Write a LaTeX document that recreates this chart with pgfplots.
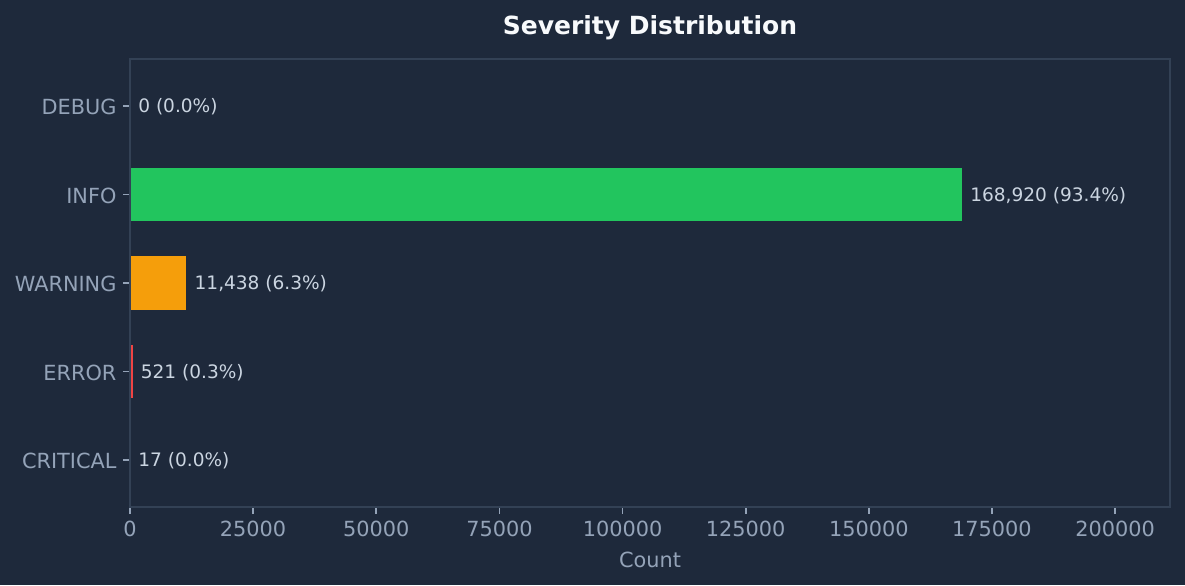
\documentclass[border=0pt]{standalone}
\usepackage{pgfplots}
\pgfplotsset{compat=1.18}
\usepackage{fontspec}
\setmainfont{DejaVu Sans}
\definecolor{bg}{HTML}{1E293B}
\definecolor{spine}{HTML}{334155}
\definecolor{tickc}{HTML}{94A3B8}
\definecolor{labc}{HTML}{CBD5E1}
\definecolor{titlec}{HTML}{F8FAFC}
\definecolor{cinfo}{HTML}{22C55E}
\definecolor{cwarn}{HTML}{F59E0B}
\definecolor{cerr}{HTML}{EF4444}
\definecolor{ccrit}{HTML}{DC2626}
\definecolor{cdebug}{HTML}{64748B}
\begin{document}
\begin{tikzpicture}
\path[use as bounding box, fill=bg] (-62.4pt,-37.44pt) rectangle (506.4pt,243.36pt);
\begin{axis}[
  at={(0,0)}, anchor=south west,
  scale only axis, width=499.2pt, height=215.04pt,
  xmin=0, xmax=211150, ymin=-0.53, ymax=4.53,
  clip=false, axis on top,
  axis line style={draw=spine, line width=0.8pt},
  tick pos=left, tick align=outside,
  major tick length=3.4pt,
  every tick/.style={draw=tickc, line width=0.8pt},
  xtick={0,25000,50000,75000,100000,125000,150000,175000,200000},
  scaled x ticks=false,
  /pgf/number format/.cd, fixed, 1000 sep={}, assume math mode=true, /pgfplots/.cd,
  ytick={0,1,2,3,4},
  yticklabels={CRITICAL,ERROR,WARNING,INFO,DEBUG},
  ticklabel style={font=\fontsize{10}{12}\selectfont, text=tickc},
  xticklabel style={anchor=base, yshift=-10.6pt, inner sep=0pt},
  yticklabel style={anchor=east, xshift=-2.9pt, yshift=-0.5pt, inner sep=0pt},
  xlabel={Count},
  xlabel style={at={(0.5,0)}, anchor=base, yshift=-28.8pt, inner sep=0pt, font=\fontsize{10}{12}\selectfont, text=tickc},
  title={Severity Distribution},
  title style={at={(0.5,1)}, anchor=base, yshift=5.7pt, inner sep=0pt, font=\bfseries\fontsize{12}{14}\selectfont, text=titlec},
  point meta=explicit symbolic,
  nodes near coords,
  every node near coord/.append style={anchor=west, inner sep=0pt, xshift=3.8pt, yshift=-0.5pt, font=\fontsize{8.9}{10}\selectfont, text=labc},
]
\addplot[xbar, bar shift=0pt, bar width=0.6, fill=cdebug, draw=none] coordinates {(0,4) [0 (0.0\%)]};
\addplot[xbar, bar shift=0pt, bar width=0.6, fill=cinfo, draw=none] coordinates {(168920,3) [168{,}920 (93.4\%)]};
\addplot[xbar, bar shift=0pt, bar width=0.6, fill=cwarn, draw=none] coordinates {(11438,2) [11{,}438 (6.3\%)]};
\addplot[xbar, bar shift=0pt, bar width=0.6, fill=cerr, draw=none] coordinates {(521,1) [521 (0.3\%)]};
\addplot[xbar, bar shift=0pt, bar width=0.6, fill=ccrit, draw=none] coordinates {(17,0) [17 (0.0\%)]};
\end{axis}
\end{tikzpicture}
\end{document}
